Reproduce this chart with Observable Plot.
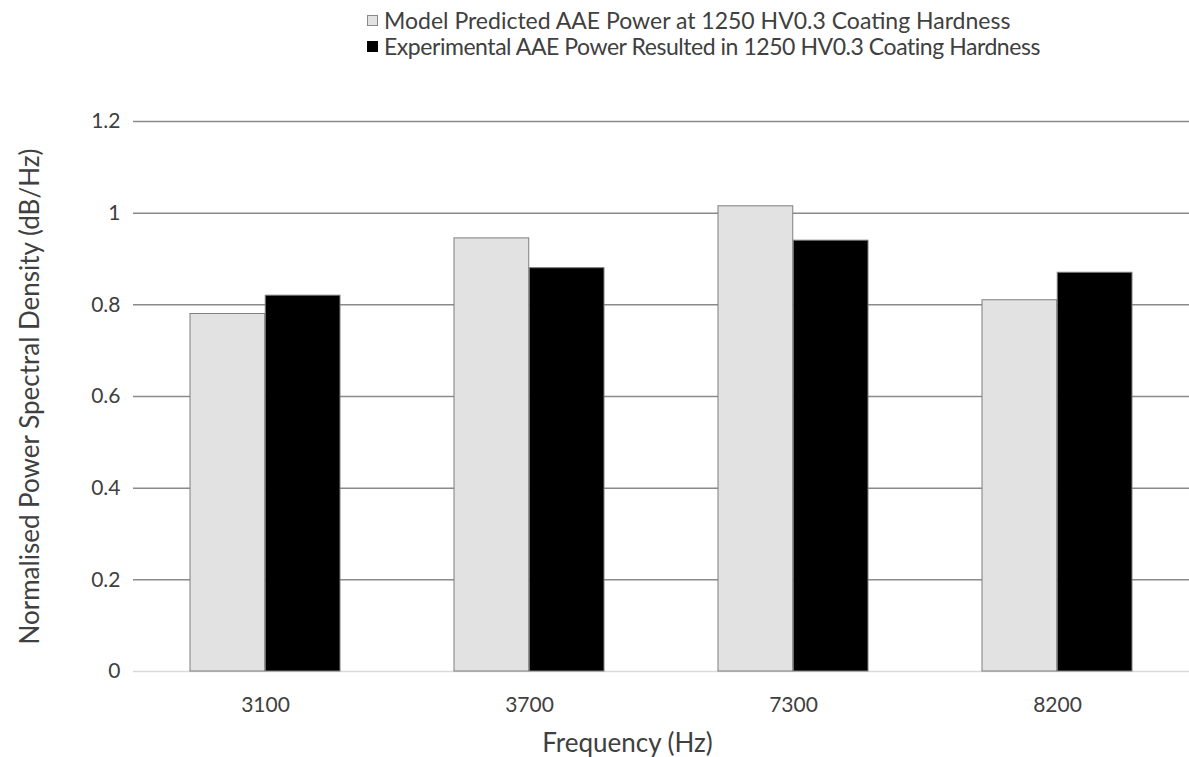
<!DOCTYPE html>
<html>
<head>
<meta charset="utf-8">
<script src="https://cdn.jsdelivr.net/npm/d3@7"></script>
<script src="https://cdn.jsdelivr.net/npm/@observablehq/plot@0.6"></script>
<style>
  body { margin: 0; background: #fff; font-family: Lato, "Open Sans", sans-serif; }
  #legend { position: relative; height: 90px; width: 1189px; }
  .row { position: absolute; left: 367px; display: flex; align-items: center; font-size: 23px; color: #404040; white-space: nowrap; line-height: 26px; }
  .sw { width: 11px; height: 11px; margin-right: 6px; box-sizing: border-box; }
</style>
</head>
<body>
<div id="legend"></div>
<div id="chart"></div>
<script>
const frequencies = ["3100", "3700", "7300", "8200"];
const modelValues = [0.78, 0.945, 1.015, 0.81];
const experimentalValues = [0.82, 0.88, 0.94, 0.87];
const seriesNames = [
  "Model Predicted AAE Power at 1250 HV0.3 Coating Hardness",
  "Experimental AAE Power Resulted in 1250 HV0.3 Coating Hardness"
];
const seriesColors = ["#e3e2e3", "#000000"];
const yTicks = [0, 0.2, 0.4, 0.6, 0.8, 1, 1.2];
const yTitle = "Normalised Power Spectral Density (dB/Hz)";
const xTitle = "Frequency (Hz)";

// legend
const legend = document.getElementById("legend");
seriesNames.forEach((name, i) => {
  const row = document.createElement("div");
  row.className = "row";
  row.style.top = (i === 0 ? 7 : 33) + "px";
  if (i === 1) row.style.letterSpacing = "-0.45px";
  const sw = document.createElement("div");
  sw.className = "sw";
  sw.style.background = seriesColors[i];
  sw.style.border = i === 0 ? "1px solid #8a8a8a" : "1px solid #000";
  const t = document.createElement("span");
  t.textContent = name;
  row.appendChild(sw);
  row.appendChild(t);
  legend.appendChild(row);
});

const modelData = frequencies.map((f, i) => ({freq: f, series: seriesNames[0], value: modelValues[i]}));
const expData = frequencies.map((f, i) => ({freq: f, series: seriesNames[1], value: experimentalValues[i]}));

const W = 1189, ML = 133, MR = 0, PAD = 0.43;
const step = (W - ML - MR) / (frequencies.length - PAD + 2 * (PAD / 2));
const half = step * (1 - PAD) / 2;

const chart = Plot.plot({
  width: W,
  height: 667,
  marginTop: 31,
  marginBottom: 86,
  marginLeft: ML,
  marginRight: MR,
  style: {fontFamily: "Lato, 'Open Sans', sans-serif", fontSize: "21px", color: "#404040", background: "#fff"},
  x: {domain: frequencies, paddingInner: PAD, paddingOuter: PAD / 2, label: null},
  y: {domain: [0, 1.2], ticks: yTicks, label: null},
  color: {domain: seriesNames, range: seriesColors},
  marks: [
    Plot.ruleY(yTicks.filter(d => d > 0), {stroke: "#8a8a8a", strokeWidth: 1.5}),
    Plot.ruleY([0], {stroke: "#d9d9d9", strokeWidth: 1.5}),
    Plot.ruleX([0], {frameAnchor: "left", y1: 0, y2: 1.2, stroke: "#ececec", strokeWidth: 1}),
    Plot.barY(modelData, {x: "freq", y: "value", fill: "series", stroke: "#7f7f7f", strokeWidth: 1, insetRight: half}),
    Plot.barY(expData, {x: "freq", y: "value", fill: "series", stroke: "#7f7f7f", strokeWidth: 1, insetLeft: half}),
    Plot.axisY({ticks: yTicks, tickSize: 0, tickPadding: 13, tickFormat: d => String(d), label: null, fontSize: 21}),
    Plot.axisX({tickSize: 0, tickPadding: 26, label: null, fontSize: 21}),
    Plot.text([yTitle], {frameAnchor: "left", textAnchor: "middle", lineAnchor: "middle", rotate: -90, dx: -103, fontSize: 26, fill: "#404040"}),
    Plot.text([xTitle], {frameAnchor: "bottom", lineAnchor: "middle", dx: -34, dy: 72, fontSize: 26, fill: "#404040"})
  ]
});
document.getElementById("chart").appendChild(chart);
</script>
</body>
</html>
